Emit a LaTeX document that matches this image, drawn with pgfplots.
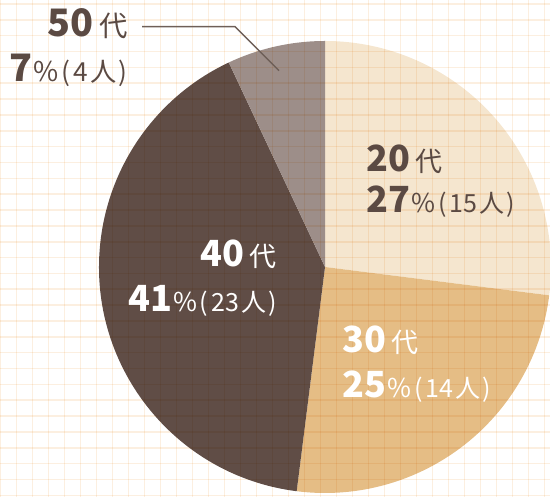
\documentclass[border=0pt]{standalone}
\usepackage{fontspec}
\setmainfont{Noto Sans CJK JP}
\usepackage{pgfplots}
\usepackage{pgfplotstable}
\pgfplotsset{compat=1.18}
\definecolor{slice0}{HTML}{F5E6CF}
\definecolor{slice1}{HTML}{E5BD85}
\definecolor{slice2}{HTML}{604D46}
\definecolor{slice3}{HTML}{9D8E89}
\definecolor{gridc}{HTML}{FCEFE0}
\definecolor{txt}{HTML}{5B4A43}
\definecolor{leader}{HTML}{6E5F58}
\pgfplotstableread{
age pct n
20 27 15
30 25 14
40 41 23
50 7 4
}\datatable
\newcommand{\bignum}[1]{{\fontsize{18}{20}\selectfont\bfseries #1}}
\newcommand{\dai}{\hspace{2.5pt}{\fontsize{13.5}{15}\selectfont 代}}
\newcommand{\pc}{\hspace{0.5pt}{\fontsize{13}{14}\selectfont\%}}
\newcommand{\ppl}[1]{{\fontsize{12.5}{14}\selectfont\hspace{1.5pt}(\hspace{1.5pt}#1\hspace{1pt}人\hspace{1pt})}}
\begin{document}
\begin{tikzpicture}
\begin{axis}[name=ax,
  scale only axis, width=275pt, height=248.5pt,
  xmin=0, xmax=550, ymin=0, ymax=497,
  axis line style={draw=none},
  major tick length=0pt,
  xticklabels={}, yticklabels={},
  xtick={0.3,16.3,...,560}, ytick={1.65,17.5,...,500},
  grid=major,
  grid style={color=gridc, line width=0.8pt, blend mode=multiply},
  axis on top,
]
\def\cumul{90}
\pgfplotsforeachungrouped \i in {0,...,3}{%
  \pgfplotstablegetelem{\i}{pct}\of\datatable
  \let\p\pgfplotsretval
  \pgfmathsetmacro\a{\cumul}%
  \pgfmathsetmacro\b{\cumul-3.6*\p}%
  \edef\temp{\noexpand\fill[slice\i] (axis cs:325,230) -- ++(\a:113pt) arc[start angle=\a, end angle=\b, radius=113pt] -- cycle;}%
  \temp
  \global\let\cumul\b
}
\coordinate (l50a) at (axis cs:128,460);
\coordinate (l50b) at (axis cs:128,415);
\coordinate (l20a) at (axis cs:366,325);
\coordinate (l20b) at (axis cs:366,284);
\coordinate (l40a) at (axis cs:277,230);
\coordinate (l40b) at (axis cs:277,185);
\coordinate (l30a) at (axis cs:342,144);
\coordinate (l30b) at (axis cs:342,99);
\coordinate (ld1) at (axis cs:142,470.3);
\coordinate (ld2) at (axis cs:235,470.3);
\coordinate (ld3) at (axis cs:279,426.3);
\end{axis}
\draw[leader, line width=0.75pt] (ld1) -- (ld2) -- (ld3);
\node[anchor=base east, inner sep=0, text=txt, scale=1.05] at (l50a) {\bignum{50}\dai};
\node[anchor=base east, inner sep=0, text=txt, scale=1.05] at (l50b) {\bignum{7}\pc\ppl{4}};
\node[anchor=base west, inner sep=0, text=txt] at (l20a) {\bignum{20}\dai};
\node[anchor=base west, inner sep=0, text=txt] at (l20b) {\bignum{27}\pc\ppl{15}};
\node[anchor=base east, inner sep=0, text=white] at (l40a) {\bignum{40}\dai};
\node[anchor=base east, inner sep=0, text=white] at (l40b) {\bignum{41}\pc\ppl{23}};
\node[anchor=base west, inner sep=0, text=white] at (l30a) {\bignum{30}\dai};
\node[anchor=base west, inner sep=0, text=white] at (l30b) {\bignum{25}\pc\ppl{14}};
\pgfresetboundingbox
\useasboundingbox (ax.south west) rectangle (ax.north east);
\end{tikzpicture}
\end{document}
